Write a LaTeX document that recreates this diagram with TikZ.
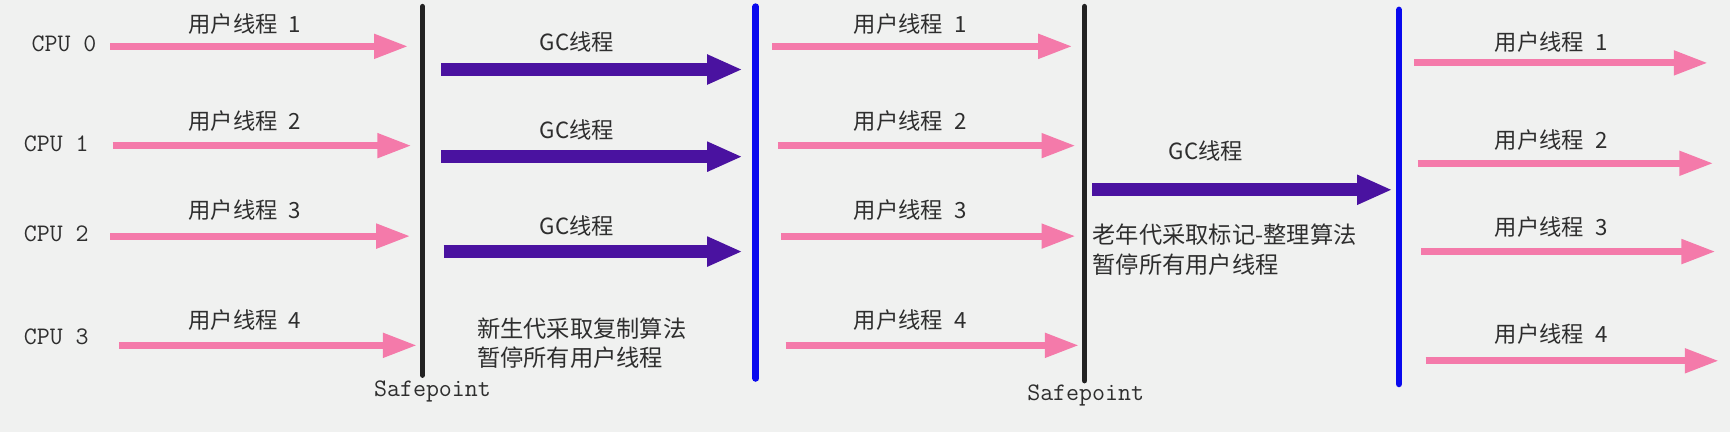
\documentclass[tikz,border=0pt]{standalone}
\usepackage{fontspec}
\setmainfont{Noto Sans CJK SC}
\usetikzlibrary{arrows.meta}

\definecolor{bgcol}{HTML}{F0F1F0}
\definecolor{userpink}{HTML}{F47AAA}
\definecolor{gcpurple}{HTML}{4A12A0}
\definecolor{sfblack}{HTML}{222222}
\definecolor{sfblue}{HTML}{0A0AEE}
\definecolor{txtgray}{HTML}{2E2E2E}

\tikzset{
  userarrow/.style={draw=userpink, line width=0.13cm,
    -{Triangle[length=0.62cm,width=0.42cm]}},
  gcarrow/.style={draw=gcpurple, line width=0.23cm,
    -{Triangle[length=0.64cm,width=0.5cm]}},
  safeline/.style={draw=sfblack, line width=0.1cm, line cap=round},
  pauseend/.style={draw=sfblue, line width=0.12cm, line cap=round},
  thrlabel/.style={inner sep=0pt, text=txtgray, font=\fontsize{11.5}{13}\selectfont},
  monolabel/.style={inner sep=0pt, text=txtgray, font=\ttfamily\fontsize{13}{15}\selectfont},
  notetext/.style={inner sep=0pt, anchor=west, align=left, text=txtgray,
    font=\fontsize{12}{15.3}\selectfont},
}

\begin{document}
\begin{tikzpicture}[x=0.02cm,y=-0.02cm]
  \fill[bgcol] (0,0) rectangle (1568,391.5);

  % safepoints and pause ends
  \coordinate (sp1t) at (383,6);   \coordinate (sp1b) at (383,340);
  \coordinate (end1t) at (685,6);  \coordinate (end1b) at (685,343);
  \coordinate (sp2t) at (983,6);   \coordinate (sp2b) at (983,345);
  \coordinate (end2t) at (1268,9); \coordinate (end2b) at (1268,348);
  \draw[safeline] (sp1t) -- (sp1b);
  \draw[pauseend] (end1t) -- (end1b);
  \draw[safeline] (sp2t) -- (sp2b);
  \draw[pauseend] (end2t) -- (end2b);
  \node[monolabel] (safe1) at (392,355) {Safepoint};
  \node[monolabel] (safe2) at (984,358) {Safepoint};

  % cpus
  \node[monolabel] (cpu0) at (58,40) {CPU 0};
  \node[monolabel] (cpu1) at (51,130) {CPU 1};
  \node[monolabel] (cpu2) at (51,212) {CPU 2};
  \node[monolabel] (cpu3) at (51,305) {CPU 3};

  % user threads, first run
  \coordinate (a0s) at (100,42);  \coordinate (a0e) at (370,42);
  \coordinate (a1s) at (102,132); \coordinate (a1e) at (373,132);
  \coordinate (a2s) at (100,214); \coordinate (a2e) at (372,214);
  \coordinate (a3s) at (108,313); \coordinate (a3e) at (378,313);
  \draw[userarrow] (a0s) -- (a0e); \draw[userarrow] (a1s) -- (a1e);
  \draw[userarrow] (a2s) -- (a2e); \draw[userarrow] (a3s) -- (a3e);
  \node[thrlabel] (ua0) at (222,22) {用户线程\enspace1};
  \node[thrlabel] (ua1) at (222,110) {用户线程\enspace2};
  \node[thrlabel] (ua2) at (222,190) {用户线程\enspace3};
  \node[thrlabel] (ua3) at (222,290) {用户线程\enspace4};

  % gc threads, young generation
  \coordinate (b0s) at (400,63);  \coordinate (b0e) at (673,63);
  \coordinate (b1s) at (400,142); \coordinate (b1e) at (673,142);
  \coordinate (b2s) at (402,228); \coordinate (b2e) at (673,228);
  \draw[gcarrow] (b0s) -- (b0e); \draw[gcarrow] (b1s) -- (b1e);
  \draw[gcarrow] (b2s) -- (b2e);
  \node[thrlabel] (gb0) at (523,38) {GC线程};
  \node[thrlabel] (gb1) at (523,118) {GC线程};
  \node[thrlabel] (gb2) at (523,205) {GC线程};
  \node[notetext] (youngnote) at (432,311) {新生代采取复制算法\\暂停所有用户线程};

  % user threads, second run
  \coordinate (c0s) at (700,42);  \coordinate (c0e) at (972,42);
  \coordinate (c1s) at (705,132); \coordinate (c1e) at (975,132);
  \coordinate (c2s) at (708,214); \coordinate (c2e) at (975,214);
  \coordinate (c3s) at (712,313); \coordinate (c3e) at (978,313);
  \draw[userarrow] (c0s) -- (c0e); \draw[userarrow] (c1s) -- (c1e);
  \draw[userarrow] (c2s) -- (c2e); \draw[userarrow] (c3s) -- (c3e);
  \node[thrlabel] (uc0) at (825,22) {用户线程\enspace1};
  \node[thrlabel] (uc1) at (825,110) {用户线程\enspace2};
  \node[thrlabel] (uc2) at (825,190) {用户线程\enspace3};
  \node[thrlabel] (uc3) at (825,290) {用户线程\enspace4};

  % gc thread, old generation
  \coordinate (d0s) at (990,172); \coordinate (d0e) at (1262,172);
  \draw[gcarrow] (d0s) -- (d0e);
  \node[thrlabel] (gd0) at (1093,137) {GC线程};
  \node[notetext] (oldnote) at (990,226) {老年代采取标记-整理算法\\暂停所有用户线程};

  % user threads, third run
  \coordinate (e0s) at (1282,57);  \coordinate (e0e) at (1548,57);
  \coordinate (e1s) at (1285,148); \coordinate (e1e) at (1553,148);
  \coordinate (e2s) at (1288,228); \coordinate (e2e) at (1555,228);
  \coordinate (e3s) at (1292,327); \coordinate (e3e) at (1558,327);
  \draw[userarrow] (e0s) -- (e0e); \draw[userarrow] (e1s) -- (e1e);
  \draw[userarrow] (e2s) -- (e2e); \draw[userarrow] (e3s) -- (e3e);
  \node[thrlabel] (ue0) at (1406,38) {用户线程\enspace1};
  \node[thrlabel] (ue1) at (1406,127) {用户线程\enspace2};
  \node[thrlabel] (ue2) at (1406,206) {用户线程\enspace3};
  \node[thrlabel] (ue3) at (1406,303) {用户线程\enspace4};
\end{tikzpicture}
\end{document}
